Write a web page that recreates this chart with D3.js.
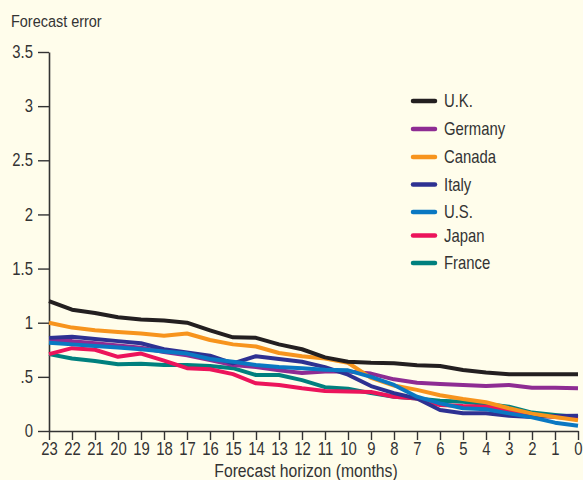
<!DOCTYPE html>
<html><head><meta charset="utf-8">
<script src="https://cdn.jsdelivr.net/npm/d3@7/dist/d3.min.js"></script>
<style>
html,body{margin:0;padding:0;background:#FFFDEB;}
svg{display:block;}
text{font-family:"Liberation Sans","Arial",sans-serif;fill:#333;}
</style></head><body>
<svg id="chart" width="583" height="480"></svg>
<script>
const months = [23,22,21,20,19,18,17,16,15,14,13,12,11,10,9,8,7,6,5,4,3,2,1,0];
const yTicks = [0,0.5,1,1.5,2,2.5,3,3.5];
const yTickLabels = ["0",".5","1","1.5","2","2.5","3","3.5"];
const seriesNames = ["U.K.","Germany","Canada","Italy","U.S.","Japan","France"];
const seriesColors = ["#231f20","#8e2c93","#f7941d","#2e3192","#0a78c2","#ec145b","#00807e"];
const ukValues      = [1.20,1.12,1.09,1.05,1.03,1.02,1.00,0.93,0.865,0.86,0.80,0.755,0.68,0.64,0.63,0.625,0.607,0.60,0.563,0.54,0.523,0.523,0.523,0.523];
const germanyValues = [0.83,0.83,0.81,0.79,0.77,0.73,0.70,0.655,0.61,0.59,0.56,0.535,0.55,0.55,0.53,0.477,0.446,0.434,0.425,0.415,0.425,0.40,0.40,0.394];
const canadaValues  = [1.00,0.955,0.93,0.915,0.90,0.88,0.90,0.84,0.80,0.78,0.72,0.69,0.67,0.63,0.49,0.42,0.38,0.33,0.295,0.265,0.21,0.16,0.13,0.10];
const italyValues   = [0.86,0.87,0.85,0.83,0.81,0.755,0.725,0.695,0.625,0.69,0.665,0.64,0.59,0.52,0.415,0.35,0.30,0.194,0.163,0.163,0.14,0.13,0.138,0.141];
const usValues      = [0.815,0.80,0.785,0.77,0.755,0.735,0.715,0.665,0.64,0.61,0.59,0.58,0.565,0.56,0.50,0.425,0.317,0.255,0.21,0.20,0.163,0.126,0.077,0.049];
const japanValues   = [0.71,0.765,0.75,0.685,0.715,0.65,0.58,0.57,0.525,0.44,0.425,0.395,0.37,0.365,0.36,0.317,0.30,0.24,0.23,0.225,0.19,0.148,0.13,0.117];
const franceValues  = [0.71,0.67,0.646,0.616,0.62,0.61,0.61,0.60,0.58,0.517,0.517,0.47,0.405,0.39,0.35,0.317,0.30,0.28,0.27,0.25,0.225,0.17,0.148,0.13];
const allValues = [ukValues,germanyValues,canadaValues,italyValues,usValues,japanValues,franceValues];

const SX = 0.85; // condensed look
function condense(sel){
  sel.each(function(){
    const t = d3.select(this);
    const x0 = +(t.attr("x") || 0);
    t.attr("transform", `translate(${x0},0) scale(${SX},1) translate(${-x0},0)`);
  });
}

const svg = d3.select("#chart");
const x = d3.scaleLinear().domain([23,0]).range([49,578]);
const y = d3.scaleLinear().domain([0,3.5]).range([431,52]);

// axes
const yAxis = d3.axisLeft(y).tickValues(yTicks).tickSize(11).tickSizeOuter(0).tickPadding(5)
  .tickFormat((d,i)=>yTickLabels[i]);
const gy = svg.append("g").attr("transform","translate(49,0)").call(yAxis);
gy.select(".domain").attr("stroke","#333").attr("stroke-width",1.6);
gy.selectAll(".tick line").attr("stroke","#333").attr("stroke-width",1.4);
gy.selectAll(".tick text").style("font-size","17.5px").attr("fill","#333").call(condense);

const xAxis = d3.axisBottom(x).tickValues(months).tickSize(9).tickSizeOuter(0).tickPadding(3)
  .tickFormat(d=>String(d));
const gx = svg.append("g").attr("transform","translate(0,431)").call(xAxis);
gx.select(".domain").attr("stroke","#333").attr("stroke-width",1.6);
gx.selectAll(".tick line").attr("stroke","#333").attr("stroke-width",1.4);
gx.selectAll(".tick text").style("font-size","17.5px").attr("fill","#333").call(condense);

// lines
const line = d3.line().x((d,i)=>x(months[i])).y(d=>y(d)).curve(d3.curveLinear);
const drawOrder = [6,5,1,3,2,4,0];
drawOrder.forEach(k=>{
  svg.append("path").datum(allValues[k]).attr("d",line)
    .attr("fill","none").attr("stroke",seriesColors[k]).attr("stroke-width",4)
    .attr("stroke-linejoin","round").attr("stroke-linecap","butt");
});

// legend
const legendY = [101,129,157,184.5,212,235.5,263];
seriesNames.forEach((n,i)=>{
  svg.append("line").attr("x1",413).attr("x2",435).attr("y1",legendY[i]).attr("y2",legendY[i])
    .attr("stroke",seriesColors[i]).attr("stroke-width",4.5).attr("stroke-linecap","round");
  svg.append("text").attr("x",444).attr("y",legendY[i]).attr("dy","0.36em")
    .style("font-size","17.5px").text(n).call(condense);
});

// titles
svg.append("text").attr("x",11).attr("y",27).style("font-size","17px").text("Forecast error").call(condense);
svg.append("text").attr("x",306).attr("y",477).attr("text-anchor","middle")
  .style("font-size","18.5px").text("Forecast horizon (months)").call(condense);
</script>
</body></html>
